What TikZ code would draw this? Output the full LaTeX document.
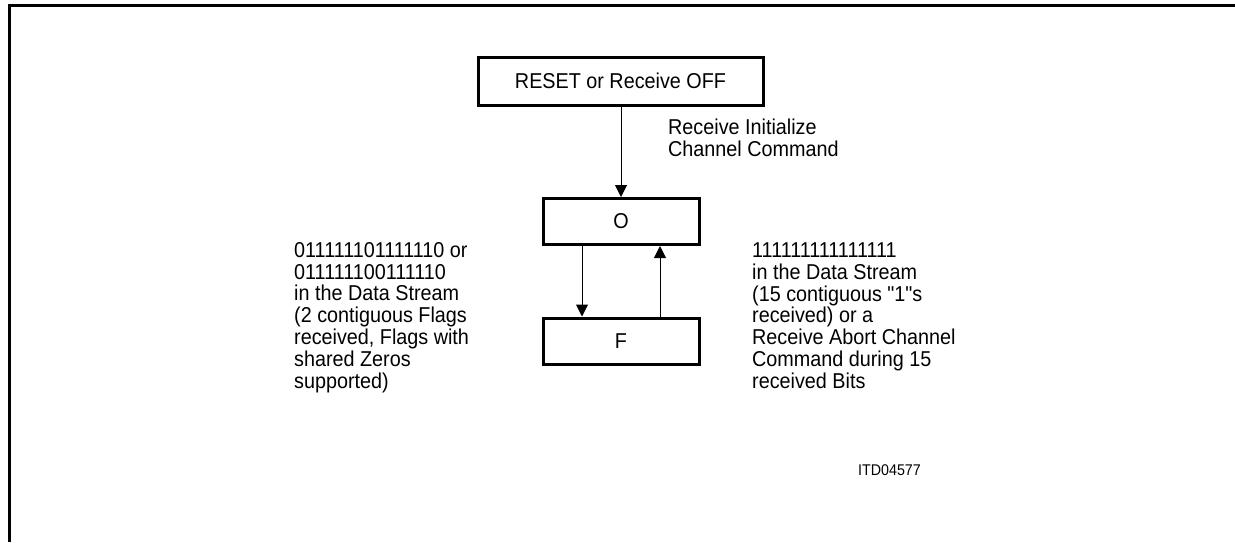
\documentclass[tikz,border=0pt]{standalone}
\usepackage{fontspec}
\newfontfamily\arialf{Liberation Sans}[FakeStretch=0.92]
\usetikzlibrary{arrows.meta}
\begin{document}
\begin{tikzpicture}[x=1pt,y=-1pt,
  statebox/.style={draw,line width=3pt,minimum width=#1,minimum height=46pt,inner sep=0pt,font=\arialf\fontsize{21.5}{21.8}\selectfont},
  statebox/.default=156pt,
  conn/.style={line width=1pt,-{Triangle[length=12pt,width=12pt]}},
  lbl/.style={font=\arialf\fontsize{21.5}{21.8}\selectfont,align=left,inner sep=0pt,anchor=north west}]
\useasboundingbox (0,0) rectangle (1235,542);
\coordinate (ftl) at (1235,5);
\coordinate (ftr) at (9,5);
\coordinate (fbl) at (9,542);
\draw[line width=3pt] (ftl) -- (ftr) -- (fbl);
\node[statebox=285pt,minimum height=48pt] (reset) at (620.5,81) {RESET or Receive OFF};
\node[statebox] (o) at (621,221.5) {O};
\node[statebox] (f) at (621,341) {F};
\draw[conn] (reset.south -| o.north) -- (o.north);
\draw[conn] ([xshift=-39pt]o.south) -- ([xshift=-39pt]f.north);
\draw[conn] ([xshift=39pt]f.north) -- ([xshift=39pt]o.south);
\node[lbl] (rinit) at (668,119) {Receive Initialize\\Channel Command};
\node[lbl] (ltxt) at (294,242) {011111101111110 or\\011111100111110\\in the Data Stream\\(2 contiguous Flags\\received, Flags with\\shared Zeros\\supported)};
\node[lbl] (rtxt) at (752,242.5) {111111111111111\\in the Data Stream\\(15 contiguous "1"s\\received) or a\\Receive Abort Channel\\Command during 15\\received Bits};
\node[lbl,font=\arialf\fontsize{15.5}{18}\selectfont] (itd) at (858,464) {ITD04577};
\end{tikzpicture}
\end{document}
